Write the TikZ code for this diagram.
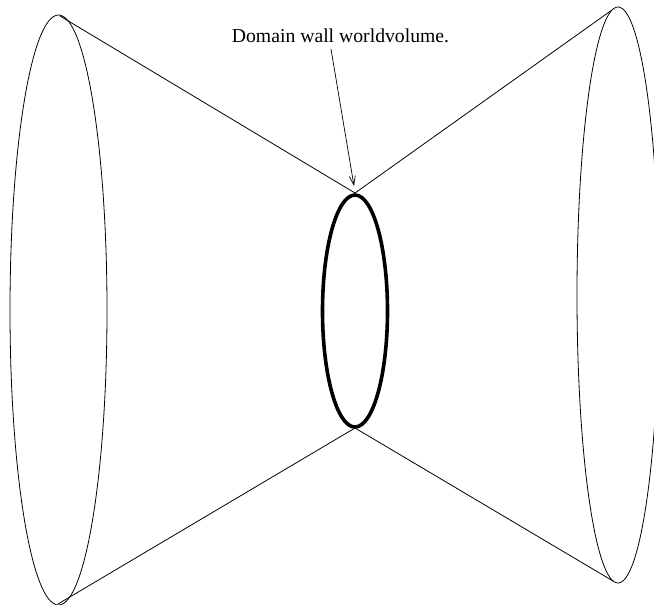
\documentclass[tikz,border=0pt]{standalone}
\usepackage{fontspec}
\setmainfont{Liberation Serif}
\usetikzlibrary{arrows.meta}
\begin{document}
\begin{tikzpicture}[x=1pt,y=-1pt,
  thinline/.style={line width=0.8pt, black},
  wall/.style={line width=3.6pt, black},
  pointer/.style={line width=0.7pt, -{Straight Barb[length=9pt,width=6pt]}},
  lbl/.style={font=\fontsize{19.7pt}{22pt}\selectfont, inner sep=0pt, anchor=base}]
\useasboundingbox (0,0) rectangle (654,605);
% outer ellipses
\draw[thinline] (58.5,310) ellipse [x radius=48.5, y radius=295];
\draw[thinline] (618,295) ellipse [x radius=41, y radius=288];
% tangent points
\coordinate (lt) at (60,16);
\coordinate (lb) at (58,604);
\coordinate (rt) at (612,10);
\coordinate (rb) at (613,581);
\coordinate (wt) at (355,193);
\coordinate (wb) at (355,428);
\draw[thinline] (lt) -- (wt) -- (rt);
\draw[thinline] (lb) -- (wb) -- (rb);
% domain wall
\draw[wall] (355,311) ellipse [x radius=32.5, y radius=116];
% label
\node[lbl] (label) at (340.5,42) {Domain wall worldvolume.};
\coordinate (as) at (331,49);
\coordinate (ae) at (354,186);
\draw[pointer] (as) -- (ae);
\end{tikzpicture}
\end{document}
